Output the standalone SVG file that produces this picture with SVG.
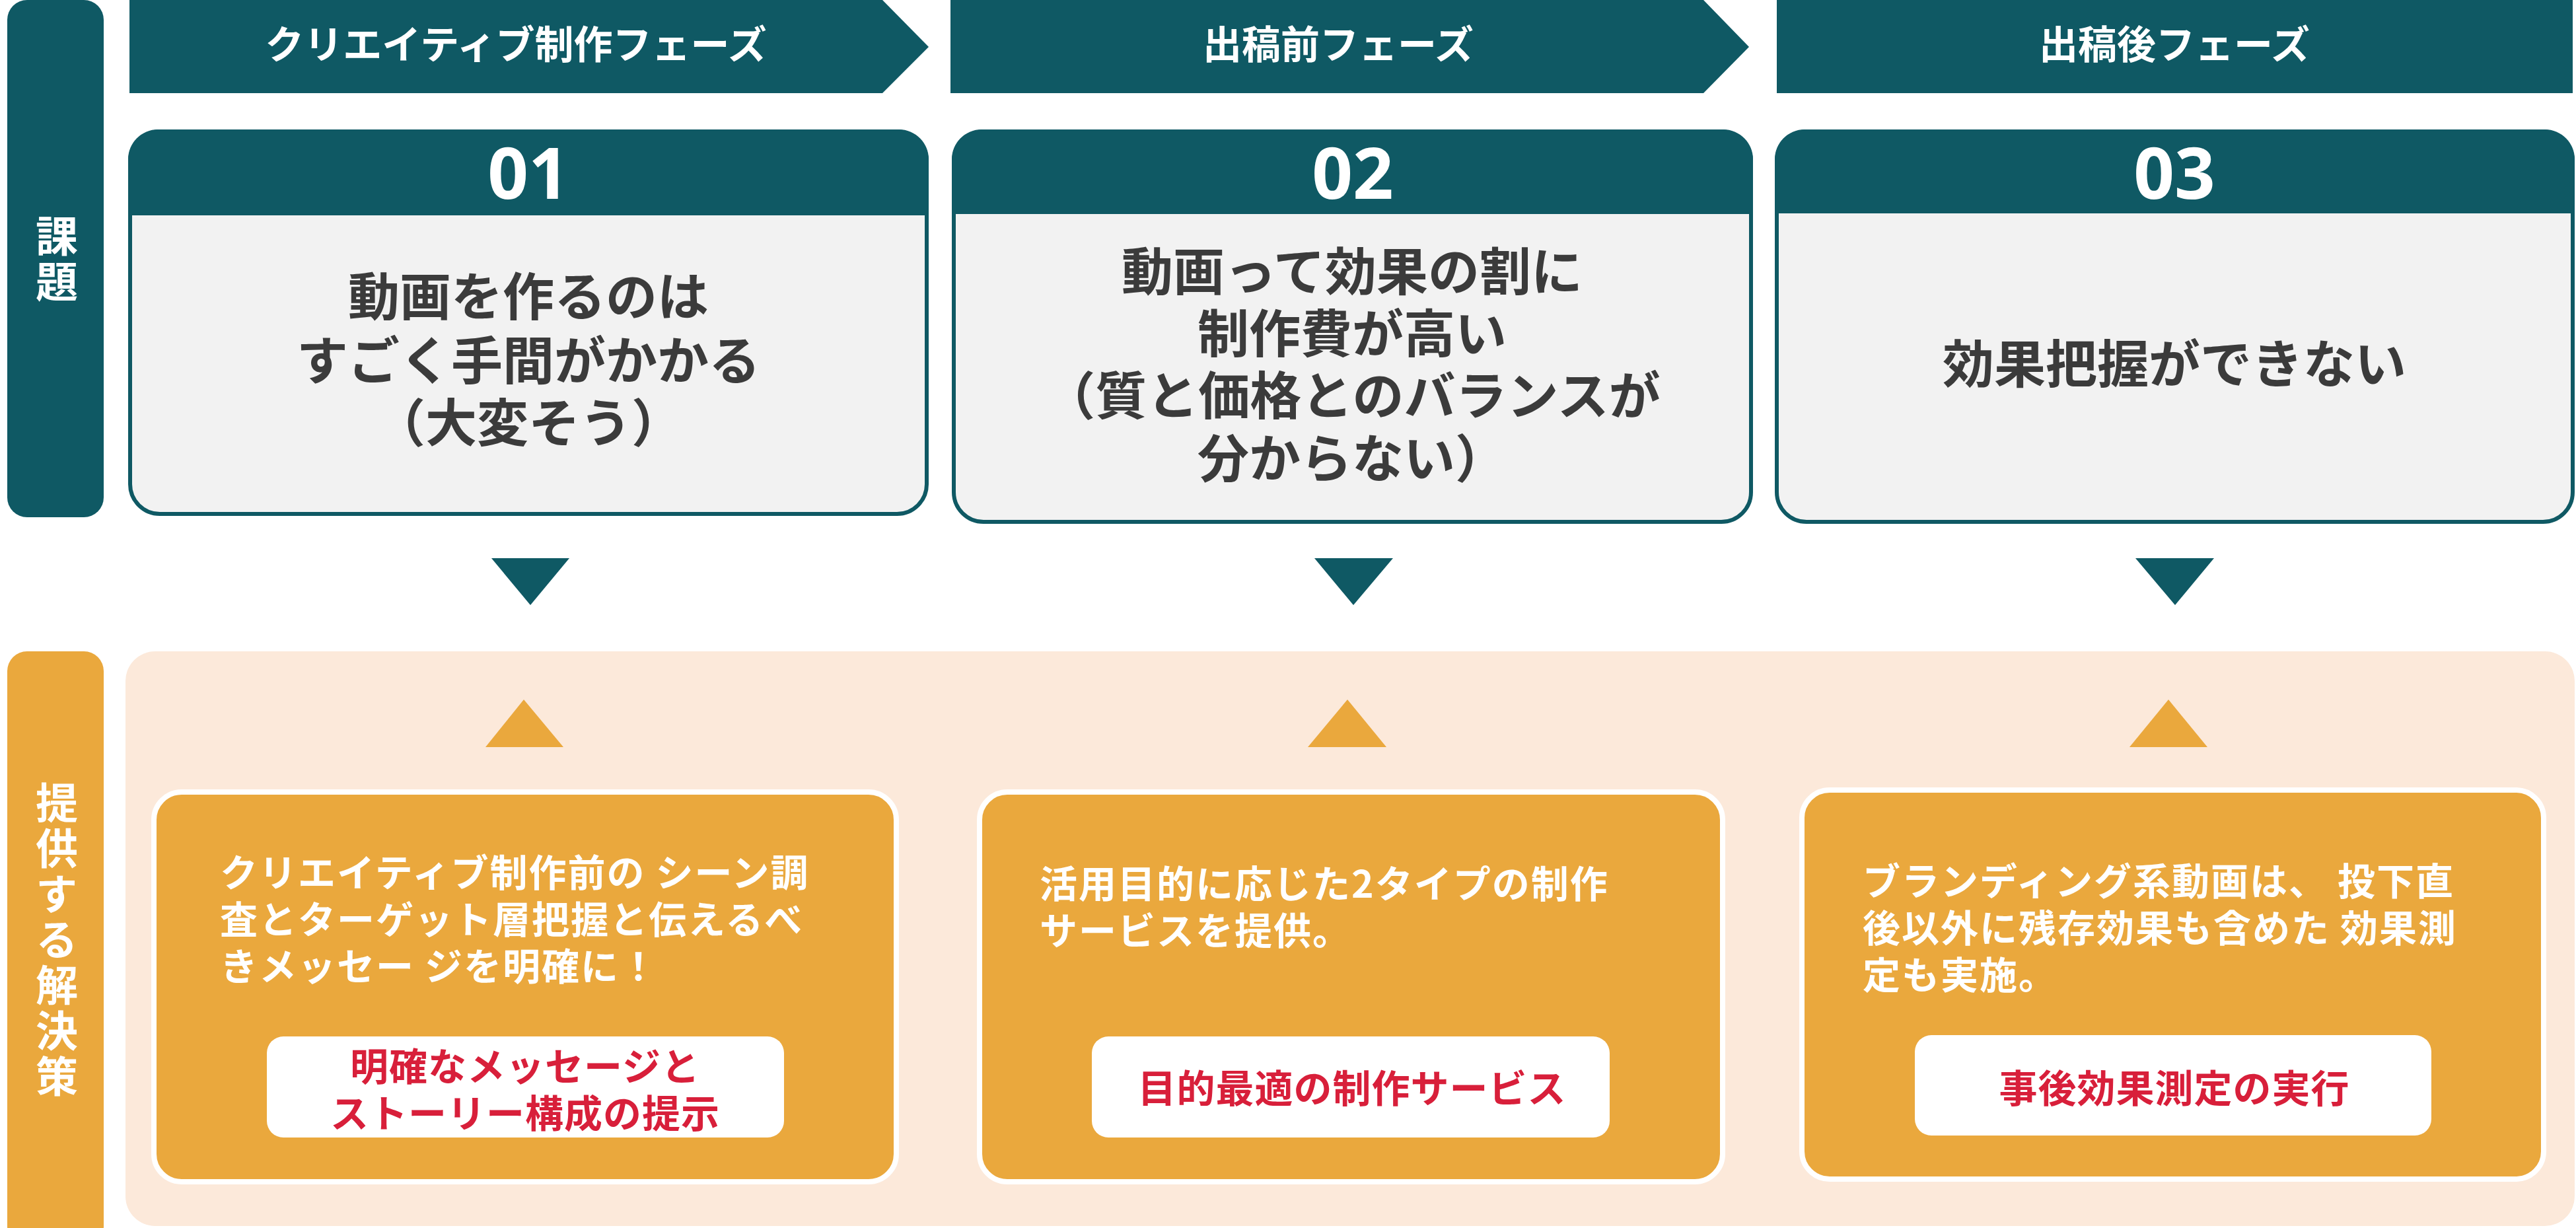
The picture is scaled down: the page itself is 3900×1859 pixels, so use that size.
<svg xmlns="http://www.w3.org/2000/svg" width="3900" height="1859" viewBox="0 0 3900 1859">
<defs>
<style>
.jp{font-family:"Noto Sans CJK JP","Noto Sans",sans-serif;font-weight:700}
.teal{fill:#0f5964}
.phase{fill:#ffffff;font-size:59px;text-anchor:middle;dominant-baseline:central}
.num{fill:#ffffff;font-family:"Noto Sans","Open Sans",sans-serif;font-weight:700;font-size:108px;text-anchor:middle}
.body{fill:#3b3b3b;font-size:78px;text-anchor:middle;dominant-baseline:central}
.cardbg{fill:#f2f2f2;stroke:#0f5964;stroke-width:6}
.side{fill:#ffffff;font-size:64px;writing-mode:vertical-rl;text-anchor:middle;letter-spacing:5px}
.sol{fill:#eaa83d;stroke:#ffffff;stroke-width:8}
.soltxt{fill:#ffffff;font-size:57px;letter-spacing:2px;dominant-baseline:central}
.tag{fill:#ffffff}
.tagtxt{fill:#d81f3a;font-size:58px;letter-spacing:1px;text-anchor:middle;dominant-baseline:central}
.down{fill:#0f5964}
.up{fill:#eaa83d}
</style>
</defs>
<rect width="3900" height="1859" fill="#ffffff"/>

<g id="side-issue">
<rect x="11" y="0" width="146" height="783" rx="30" class="teal"/>
<text class="jp side" x="86" y="394">課題</text>
</g>

<g id="side-solution">
<rect x="11" y="986" width="146" height="900" rx="30" fill="#eaa83d"/>
<text class="jp side" x="86" y="1424">提供する解決策</text>
</g>

<g id="phase-1">
<polygon points="196,0 1336,0 1406,71 1336,141 196,141" class="teal"/>
<text class="jp phase" x="781" y="63">クリエイティブ制作フェーズ</text>
</g>
<g id="phase-2">
<polygon points="1439,0 2579,0 2648,71 2579,141 1439,141" class="teal"/>
<text class="jp phase" x="2026" y="63">出稿前フェーズ</text>
</g>
<g id="phase-3">
<rect x="2690" y="0" width="1205" height="141" class="teal"/>
<text class="jp phase" x="3292" y="63">出稿後フェーズ</text>
</g>

<g id="card-01">
<rect x="197" y="199" width="1206" height="579" rx="45" class="cardbg"/>
<path d="M194,326 V241 A45,45 0 0 1 239,196 H1361 A45,45 0 0 1 1406,241 V326 Z" class="teal"/>
<text class="num" x="800" y="301">01</text>
<text class="jp body"><tspan x="800" y="444">動画を作るのは</tspan><tspan x="800" y="541">すごく手間がかかる</tspan><tspan x="800" y="635">（大変そう）</tspan></text>
</g>

<g id="card-02">
<rect x="1444" y="199" width="1207" height="591" rx="45" class="cardbg"/>
<path d="M1441,324 V241 A45,45 0 0 1 1486,196 H2609 A45,45 0 0 1 2654,241 V324 Z" class="teal"/>
<text class="num" x="2048" y="301">02</text>
<text class="jp body"><tspan x="2047" y="406">動画って効果の割に</tspan><tspan x="2047" y="500">制作費が高い</tspan><tspan x="2047" y="594">（質と価格とのバランスが</tspan><tspan x="2047" y="689">分からない）</tspan></text>
</g>

<g id="card-03">
<rect x="2690" y="199" width="1205" height="591" rx="45" class="cardbg"/>
<path d="M2687,323 V241 A45,45 0 0 1 2732,196 H3853 A45,45 0 0 1 3898,241 V323 Z" class="teal"/>
<text class="num" x="3292" y="301">03</text>
<text class="jp body" x="3292" y="546">効果把握ができない</text>
</g>

<g id="solution-area">
<rect x="190" y="986" width="3708" height="870" rx="45" fill="#fce9da"/>
</g>

<g id="connectors">
<polygon points="744,845 862,845 803,916" class="down"/>
<polygon points="1990,845 2109,845 2049,916" class="down"/>
<polygon points="3233,845 3352,845 3293,916" class="down"/>
<polygon points="735,1131 853,1131 793,1059" class="up"/>
<polygon points="1980,1131 2099,1131 2040,1059" class="up"/>
<polygon points="3224,1131 3342,1131 3283,1059" class="up"/>
</g>

<g id="solution-1">
<rect x="233" y="1199" width="1124" height="590" rx="42" class="sol"/>
<text class="jp soltxt"><tspan x="333" y="1317">クリエイティブ制作前の シーン調</tspan><tspan x="333" y="1388">査とターゲット層把握と伝えるべ</tspan><tspan x="333" y="1459">きメッセー ジを明確に！</tspan></text>
<rect x="404" y="1569" width="783" height="153" rx="25" class="tag"/>
<text class="jp tagtxt"><tspan x="795" y="1611">明確なメッセージと</tspan><tspan x="795" y="1682">ストーリー構成の提示</tspan></text>
</g>

<g id="solution-2">
<rect x="1483" y="1199" width="1125" height="590" rx="42" class="sol"/>
<text class="jp soltxt"><tspan x="1574" y="1334">活用目的に応じた2タイプの制作</tspan><tspan x="1574" y="1405">サービスを提供。</tspan></text>
<rect x="1653" y="1569" width="784" height="153" rx="25" class="tag"/>
<text class="jp tagtxt" x="2047" y="1644">目的最適の制作サービス</text>
</g>

<g id="solution-3">
<rect x="2728" y="1196" width="1123" height="589" rx="42" class="sol"/>
<text class="jp soltxt"><tspan x="2820" y="1330">ブランディング系動画は、 投下直</tspan><tspan x="2820" y="1401">後以外に残存効果も含めた 効果測</tspan><tspan x="2820" y="1472">定も実施。</tspan></text>
<rect x="2899" y="1567" width="782" height="152" rx="25" class="tag"/>
<text class="jp tagtxt" x="3292" y="1644">事後効果測定の実行</text>
</g>
</svg>
